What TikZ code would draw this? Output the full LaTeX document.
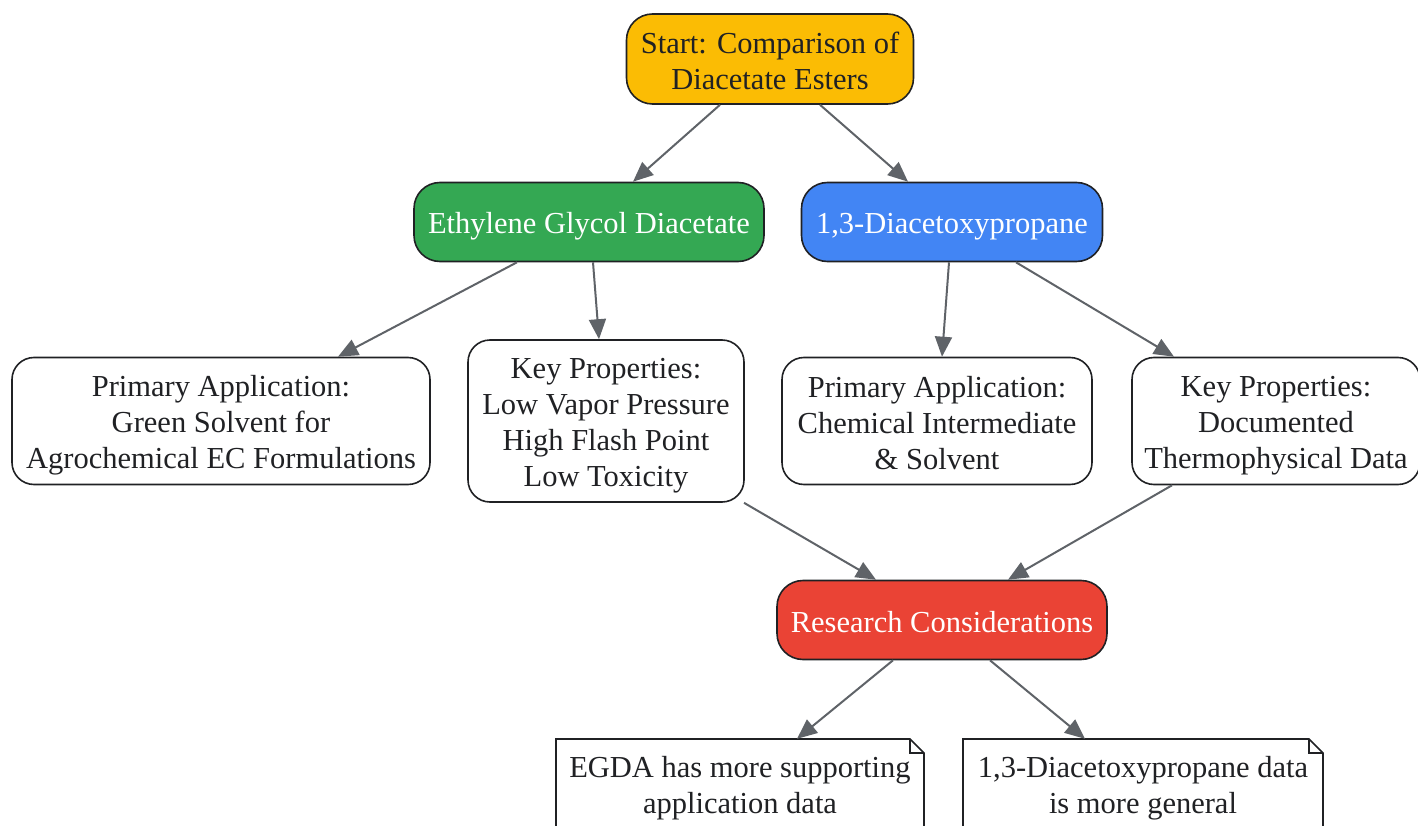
\documentclass[tikz,border=0pt]{standalone}
\usepackage{fontspec}
\setmainfont{Liberation Serif}
\usetikzlibrary{positioning, arrows.meta}

\definecolor{startyellow}{HTML}{FBBC04}
\definecolor{egdgreen}{HTML}{34A853}
\definecolor{dapblue}{HTML}{4285F4}
\definecolor{resred}{HTML}{EA4335}
\definecolor{edgegray}{HTML}{5F6368}
\definecolor{linedark}{HTML}{202124}

% struts so that every line sits on the same baseline grid
\newcommand{\tp}{\rule{0pt}{30.4pt}}
\newcommand{\bt}{\rule[-5.6pt]{0pt}{5.6pt}}

\tikzset{
  boxtext/.style={align=center, inner sep=0pt, font=\fontsize{30.5}{36}\selectfont, text=linedark},
  box/.style={boxtext, draw=linedark, line width=1.6pt, rounded corners=26pt},
  info/.style={box, fill=white, rounded corners=22pt},
  link/.style={draw=edgegray, line width=2pt, -{Triangle[length=20pt,width=17pt]}},
}

\begin{document}
\begin{tikzpicture}[x=1pt, y=-1pt]
\useasboundingbox (0,0) rectangle (1418,826);

% top
\node[box, fill=startyellow, minimum width=287pt, minimum height=90pt] (start) at (770,59) {\tp Start: Comparison of\\Diacetate Esters\bt};

% the two esters
\node[box, fill=egdgreen, text=white, minimum width=350pt, minimum height=79pt] (egd) at (589,222) {\tp Ethylene Glycol Diacetate\bt};
\node[box, fill=dapblue, text=white, minimum width=301pt, minimum height=79pt] (dap) at (952,222) {\tp 1,3-Diacetoxypropane\bt};

% details
\node[info, minimum width=418pt, minimum height=127pt] (egdapp) at (221,421) {\tp Primary Application:\\Green Solvent for\\Agrochemical EC Formulations\bt};
\node[info, minimum width=276pt, minimum height=162pt] (egdprop) at (606,421) {\tp Key Properties:\\Low Vapor Pressure\\High Flash Point\\Low Toxicity\bt};
\node[info, minimum width=310pt, minimum height=127pt] (dapapp) at (937,421) {\tp Primary Application:\\Chemical Intermediate\\\& Solvent\bt};
\node[info, minimum width=288pt, minimum height=127pt] (dapprop) at (1276,421) {\tp Key Properties:\\Documented\\Thermophysical Data\bt};

\node[box, fill=resred, text=white, minimum width=330pt, minimum height=79pt] (research) at (942,620) {\tp Research Considerations\bt};

% notes
\coordinate (note1) at (740,784);
\coordinate (note2) at (1143,784);
\foreach \n/\w in {note1/184, note2/180} {
  \draw[draw=linedark, line width=1.6pt, fill=white] ([shift={(-\w,-45)}]\n) -- ([shift={(\w-14,-45)}]\n)
    -- ([shift={(\w,-31)}]\n) -- ([shift={(\w,49)}]\n) -- ([shift={(-\w,49)}]\n) -- cycle;
  \draw[draw=linedark, line width=1.2pt] ([shift={(\w-14,-45)}]\n) -- ([shift={(\w-14,-31)}]\n) -- ([shift={(\w,-31)}]\n);
}
\node[boxtext, minimum width=368pt, minimum height=90pt] (egdanote) at (note1) {\tp EGDA has more supporting\\application data\bt};
\node[boxtext, minimum width=360pt, minimum height=90pt] (dapnote) at (note2) {\tp 1,3-Diacetoxypropane data\\is more general\bt};

% connectors
\draw[link] ([xshift=-50pt]start.south) -- ([xshift=44pt]egd.north);
\draw[link] ([xshift=50pt]start.south) -- ([xshift=-44pt]dap.north);
\draw[link] ([xshift=-72pt]egd.south) -- ([xshift=117pt]egdapp.north);
\draw[link] ([xshift=4pt]egd.south) -- ([xshift=-7pt]egdprop.north);
\draw[link] ([xshift=-3pt]dap.south) -- ([xshift=5pt]dapapp.north);
\draw[link] ([xshift=64pt]dap.south) -- ([xshift=-102pt]dapprop.north);
\draw[link] ([xshift=138pt]egdprop.south) -- ([xshift=-66pt]research.north);
\draw[link] ([xshift=-104pt]dapprop.south) -- ([xshift=66pt]research.north);
\draw[link] ([xshift=-49pt]research.south) -- ([xshift=57pt]egdanote.north);
\draw[link] ([xshift=48pt]research.south) -- ([xshift=-58pt]dapnote.north);
\end{tikzpicture}
\end{document}
